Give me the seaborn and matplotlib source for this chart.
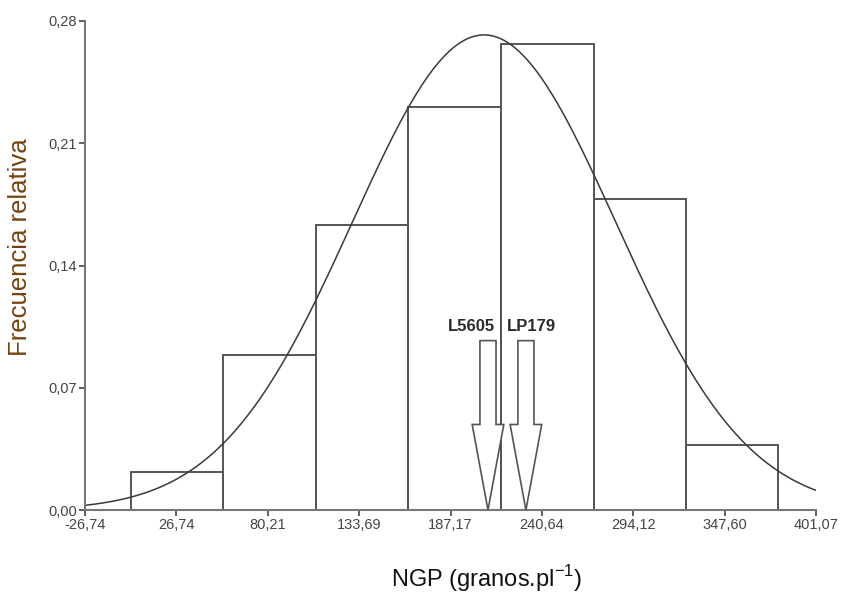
import matplotlib
matplotlib.use('Agg')
import matplotlib.pyplot as plt
import numpy as np
import seaborn as sns

# relative frequencies per class
bin_edges = [0.2, 54.3, 108.4, 162.3, 216.7, 271.1, 325.0, 378.9]
rel_freq = [0.022, 0.089, 0.163, 0.231, 0.267, 0.178, 0.037]

# fitted normal curve
fit_mean = 206.8
fit_sd = 77.0
fit_peak = 0.272

x_ticks = [-26.74, 26.74, 80.21, 133.69, 187.17, 240.64, 294.12, 347.60, 401.07]
y_ticks = [0.00, 0.07, 0.14, 0.21, 0.28]

arrow_labels = ['L5605', 'LP179']
arrow_x = [209.1, 231.3]
arrow_top = 0.097


def comma(v):
    return f'{v:.2f}'.replace('.', ',')


sns.set_style('ticks')
plt.rcParams['font.family'] = ['Liberation Sans', 'DejaVu Sans']

fig = plt.figure(figsize=(8.5, 5.98), dpi=100)
ax = fig.add_axes([0.1, 0.147, 0.86, 0.818])

centers = [(a + b) / 2 for a, b in zip(bin_edges[:-1], bin_edges[1:])]
sns.histplot(x=centers, weights=rel_freq, bins=bin_edges, stat='count',
             fill=False, color='#555555', linewidth=1.4, ax=ax)

xs = np.linspace(x_ticks[0], x_ticks[-1], 400)
ys = fit_peak * np.exp(-0.5 * ((xs - fit_mean) / fit_sd) ** 2)
sns.lineplot(x=xs, y=ys, color='#3a3a3a', linewidth=1.1, ax=ax)

for lab, xa in zip(arrow_labels, arrow_x):
    ax.arrow(xa, arrow_top, 0, -arrow_top, width=9.4, head_width=18.5,
             head_length=0.049, length_includes_head=True,
             fc='white', ec='#555555', lw=1.2, zorder=4)

ax.text(arrow_x[0] + 4, arrow_top + 0.004, arrow_labels[0], ha='right', va='bottom',
        fontsize=12, fontweight='bold', color='#2a2a2a')
ax.text(arrow_x[1] - 11, arrow_top + 0.004, arrow_labels[1], ha='left', va='bottom',
        fontsize=12, fontweight='bold', color='#2a2a2a')

ax.set_xlim(x_ticks[0], x_ticks[-1])
ax.set_ylim(0, 0.28)
ax.set_xticks(x_ticks)
ax.set_xticklabels([comma(v) for v in x_ticks])
ax.set_yticks(y_ticks)
ax.set_yticklabels([comma(v) for v in y_ticks])
ax.tick_params(labelsize=10.5, colors='#444444', length=4, width=1.2, pad=2)

sns.despine(ax=ax)
for s in ['left', 'bottom']:
    ax.spines[s].set_color('#777777')
    ax.spines[s].set_linewidth(1.5)

ax.set_xlabel('')
ax.set_ylabel('')
fig.text(0.024, 0.587, 'Frecuencia relativa', rotation=90, ha='center', va='center',
         fontsize=18.5, color='#74420f')
fig.text(0.573, 0.032, r'NGP (granos.pl$^{\mathregular{-1}}$)', ha='center', va='center',
         fontsize=17, color='#111111')

fig.savefig('out.png', dpi=100)
